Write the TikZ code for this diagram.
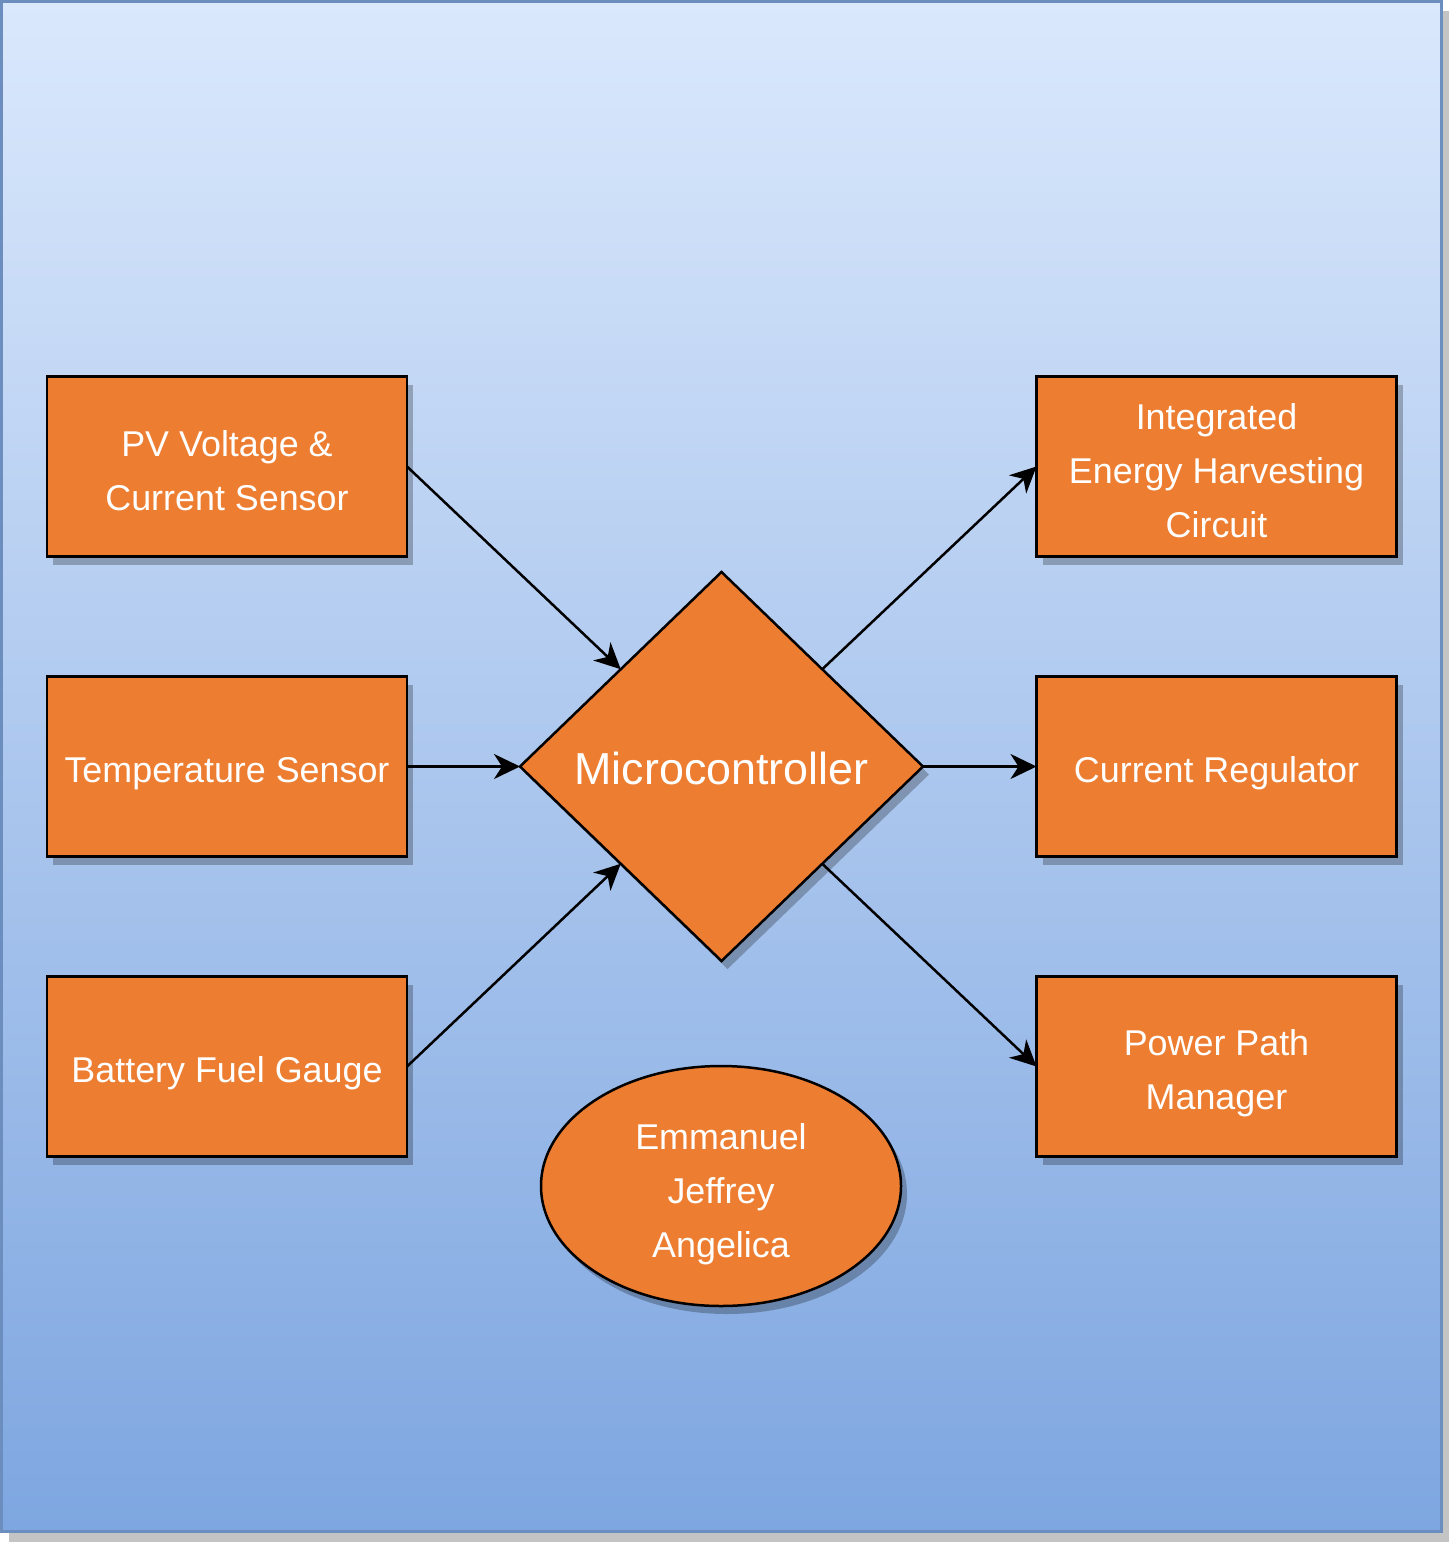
\documentclass[tikz,border=0pt]{standalone}
\usepackage{fontspec}
\setmainfont{Liberation Sans}
\usetikzlibrary{shapes.geometric,arrows.meta,shadows,calc}
\definecolor{bgtop}{HTML}{DAE8FC}
\definecolor{bgbot}{HTML}{7EA6E0}
\definecolor{bgline}{HTML}{6C8EBF}
\definecolor{org}{HTML}{ED7D31}
\definecolor{pageshadow}{HTML}{C4C4C4}
\tikzset{
  myshadow/.style={drop shadow={shadow xshift=6bp, shadow yshift=-8bp, fill=black, opacity=0.25}},
  shapeline/.style={fill=org, draw=black, line width=2.5bp, inner sep=0pt, outer sep=0pt, myshadow},
  blockbox/.style={rectangle, minimum width=360bp, minimum height=180bp, shapeline},
  mcu/.style={diamond, minimum width=403bp, minimum height=389bp, shapeline},
  names/.style={ellipse, minimum width=360bp, minimum height=240bp, shapeline},
  btext/.style={yshift=-#1, text=white, align=center, inner sep=0pt,
    font=\fontsize{36}{54}\selectfont},
  btext/.default=7bp,
  mtext/.style={yshift=-2bp, text=white, inner sep=0pt, font=\fontsize{45}{54}\selectfont},
  arr/.style={draw=black, line width=2.5bp, -{Stealth[length=26bp, width=25bp, inset=8bp]}}
}
\begin{document}
\begin{tikzpicture}[x=1bp,y=-1bp]
\useasboundingbox (0,0) rectangle (1449,1542);
% page shadow and background
\fill[pageshadow] (9,11) rectangle (1449,1542);
\path[top color=bgtop, bottom color=bgbot] (1.5,1.5) rectangle (1441.5,1531.5);
\draw[bgline, line width=3bp] (1.5,1.5) rectangle (1441.5,1531.5);
% nodes
\node[blockbox, label={[btext=4bp]center:PV Voltage \&\\Current Sensor}] (pv) at (227,466.5) {};
\node[blockbox, label={[btext]center:Temperature Sensor}] (temp) at (227,766.5) {};
\node[blockbox, label={[btext]center:Battery Fuel Gauge}] (batt) at (227,1066.5) {};
\node[blockbox, label={[btext=4bp]center:Integrated\\Energy Harvesting\\Circuit}] (ieh) at (1216.5,466.5) {};
\node[blockbox, label={[btext]center:Current Regulator}] (creg) at (1216.5,766.5) {};
\node[blockbox, label={[btext=7bp]center:Power Path\\Manager}] (ppm) at (1216.5,1066.5) {};
\node[mcu, label={[mtext]center:Microcontroller}] (mc) at (721.5,766.5) {};
\node[names, label={[btext=8bp]center:Emmanuel\\Jeffrey\\Angelica}] (team) at (721,1186) {};
% edge midpoints of the diamond
\coordinate (mcnw) at ($(mc.west)!0.5!(mc.north)$);
\coordinate (mcsw) at ($(mc.west)!0.5!(mc.south)$);
\coordinate (mcne) at ($(mc.east)!0.5!(mc.north)$);
\coordinate (mcse) at ($(mc.east)!0.5!(mc.south)$);
% connectors
\draw[arr] (pv.east) -- (mcnw);
\draw[arr] (temp.east) -- (mc.west);
\draw[arr] (batt.east) -- (mcsw);
\draw[arr] (mcne) -- (ieh.west);
\draw[arr] (mc.east) -- (creg.west);
\draw[arr] (mcse) -- (ppm.west);
\end{tikzpicture}
\end{document}
